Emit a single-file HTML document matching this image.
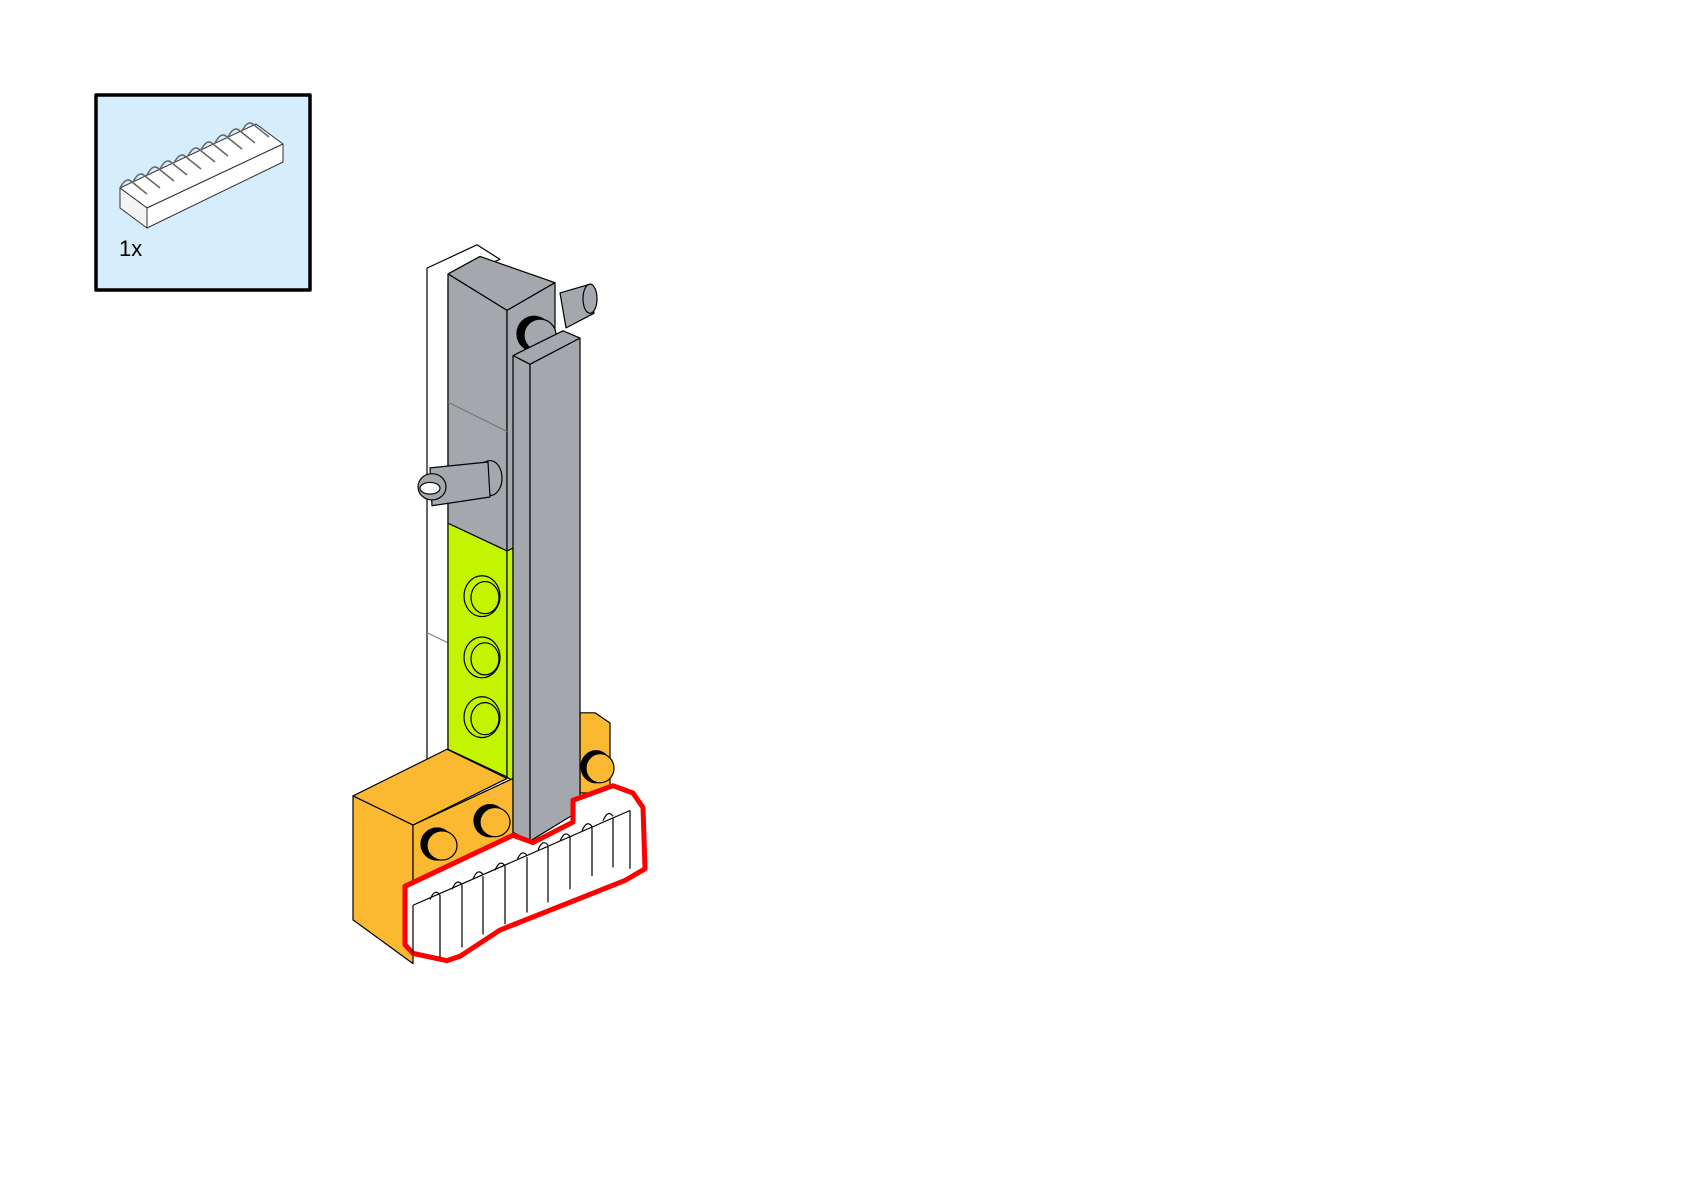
<!DOCTYPE html>
<html><head><style>body{margin:0;background:#fff}svg{display:block}svg *{vector-effect:non-scaling-stroke}</style></head>
<body>
<svg width="1684" height="1190" viewBox="0 0 1684 1190" xmlns="http://www.w3.org/2000/svg" stroke="#000" stroke-width="1.2" stroke-linejoin="round">
<rect x="96" y="95" width="214" height="195" fill="#d6edfc" stroke="#000" stroke-width="3.5"/>
<g stroke="#333" stroke-width="1">
<polygon points="120,188 256,124 283,144 147,208" fill="#fff"/>
<polygon points="120,188 147,208 147,228 120,208" fill="#f4f4f4"/>
<polygon points="147,208 283,144 283,162 147,228" fill="#fff"/>
<g fill="none" stroke="#666" stroke-width="1.5">
<path d="M120,188 q6,-12 12,-6 l15,12 M133,182 q6,-12 12,-6 l15,12 M147,175 q6,-12 12,-6 l15,12 M160,169 q6,-12 12,-6 l15,12 M174,163 q6,-12 12,-6 l15,12 M188,156 q6,-12 12,-6 l15,12 M201,150 q6,-12 12,-6 l15,12 M215,143 q6,-12 12,-6 l15,12 M228,137 q6,-12 12,-6 l15,12 M242,131 q6,-12 12,-6 l15,12"/>
</g>
</g>
<text x="119" y="256" font-family="Liberation Sans, sans-serif" font-size="22" stroke="none" fill="#000">1x</text>

<g transform="translate(0,220) scale(1,1.458) translate(0,-220)">
<polygon points="427,253 477,237 500,247 448,262 448,720 427,720" fill="#fff"/>
<line x1="427" y1="503" x2="448" y2="510" stroke="#888"/>
<polygon points="448,257 480,245 555,263 507,282" fill="#a4a7ac"/>
<polygon points="448,257 507,282 507,447 448,428" fill="#a4a7ac"/>
<polygon points="507,282 555,263 555,440 507,447" fill="#a4a7ac"/>
<line x1="448" y1="345" x2="507" y2="365" stroke="#777"/>
<polygon points="448,428 507,447 507,602 448,583" fill="#c3f500"/>
<polygon points="507,447 513,445 513,605 507,602" fill="#c3f500"/>
<g fill="#c3f500">
<ellipse cx="482" cy="478" rx="18" ry="14"/>
<ellipse cx="485" cy="479" rx="14" ry="11"/>
<ellipse cx="482" cy="520" rx="18" ry="14"/>
<ellipse cx="485" cy="521" rx="14" ry="11"/>
<ellipse cx="482" cy="561" rx="18" ry="14"/>
<ellipse cx="485" cy="562" rx="14" ry="11"/>
</g>
<g fill="#a4a7ac">
<ellipse cx="490" cy="397" rx="12" ry="12"/>
<polygon points="430,390 488,386 490,410 432,416"/>
<ellipse cx="432" cy="403" rx="14" ry="9"/>
<ellipse cx="430" cy="404" rx="10" ry="4" fill="#fff"/>
</g>
<polygon points="580,558 595,558 610,565 610,613 580,613" fill="#fbb932"/>
<ellipse cx="596" cy="595" rx="15" ry="11" fill="#000"/>
<ellipse cx="600" cy="596" rx="14" ry="10" fill="#fbb932"/>
<polygon points="353,615 447,583 507,603 413,635" fill="#fbb932"/>
<polygon points="353,615 413,635 413,730 353,700" fill="#fbb932"/>
<polygon points="413,635 513,603 513,660 413,700" fill="#fbb932"/>
<ellipse cx="437" cy="648" rx="16" ry="11" fill="#000"/>
<ellipse cx="442" cy="649" rx="15" ry="10" fill="#fbb932"/>
<ellipse cx="490" cy="632" rx="16" ry="11" fill="#000"/>
<ellipse cx="495" cy="633" rx="15" ry="10" fill="#fbb932"/>
<g fill="#a4a7ac">
<polygon points="560,270 590,264 594,284 566,294"/>
<ellipse cx="590" cy="274" rx="7" ry="10"/>
<ellipse cx="534" cy="298" rx="17" ry="12" fill="#000"/>
<ellipse cx="540" cy="299" rx="16" ry="11"/>
</g>
<polygon points="513,313 563,296 580,301 530,319" fill="#a4a7ac"/>
<polygon points="513,313 530,319 530,646 513,640" fill="#a4a7ac"/>
<polygon points="530,319 580,301 580,625 530,646" fill="#a4a7ac"/>
<polygon points="405,677 513,642 533,647 573,633 573,618 613,608 633,613 643,623 645,665 625,673 500,707 460,725 447,728 413,723 405,717" fill="#fff" stroke="#f00" stroke-width="5"/>
<g fill="none" stroke="#000" stroke-width="1.2">
<path d="M413,690 L630,625 M413,690 L413,723 M440,683 v43 M462,676 v43 M483,670 v40 M505,663 v40 M527,657 v38 M548,650 v38 M570,643 v36 M592,636 v34 M613,630 v34 M630,625 v40"/>
<path d="M430,686 q5,-8 10,-3 M452,679 q5,-8 10,-3 M473,672 q5,-8 10,-3 M495,666 q5,-8 10,-3 M517,659 q5,-8 10,-3 M538,652 q5,-8 10,-3 M560,646 q5,-8 10,-3 M582,639 q5,-8 10,-3 M603,632 q5,-8 10,-3"/>
</g>
</g>
</svg>
</body></html>
